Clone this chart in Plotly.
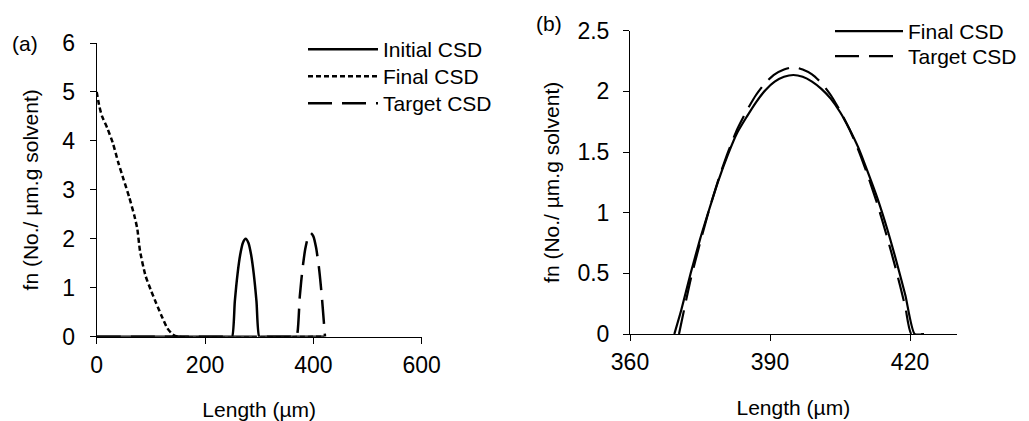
import plotly.graph_objects as go

# ---------------- Panel (a) data ----------------
a_init_x = [0, 245, 250, 255, 260, 265, 270, 275, 280, 285, 290, 295, 300, 305, 420]
a_init_y = [0, 0, 0, 0.72, 1.28, 1.68, 1.92, 2.0, 1.92, 1.68, 1.28, 0.72, 0, 0, 0]

a_final_x = [0, 5, 10, 20, 30, 40, 50, 60, 70, 75, 80, 90, 100, 110, 120, 130, 140, 150, 420]
a_final_y = [5.0, 4.7, 4.5, 4.25, 3.95, 3.55, 3.2, 2.85, 2.45, 2.2, 1.75, 1.25, 0.95, 0.68, 0.42, 0.18, 0.05, 0, 0]

a_target_x = [0, 364, 369, 375, 380, 385, 390, 395, 400, 405, 410, 415, 420, 421.5]
a_target_y = [0, 0, 0, 0.83, 1.39, 1.79, 2.03, 2.12, 2.05, 1.82, 1.44, 0.90, 0.21, 0]

# ---------------- Panel (b) data ----------------
b_final_x = [369.5, 371, 373, 375, 377, 379, 381, 383, 385, 387, 389, 391, 393, 395,
             397, 399, 401, 403, 405, 407, 409, 411, 413, 415, 417, 419, 421, 423]
b_final_y = [0, 0.2, 0.5, 0.78, 1.03, 1.27, 1.48, 1.66, 1.79, 1.91, 2.01, 2.08, 2.12, 2.135,
             2.12, 2.08, 2.02, 1.94, 1.83, 1.69, 1.53, 1.33, 1.12, 0.88, 0.61, 0.32, 0, 0]

b_target_x = [370.5, 373, 375, 377, 379, 381, 383, 385, 387, 389, 391, 393, 395,
              397, 399, 401, 403, 405, 407, 409, 411, 413, 415, 417, 419, 420.3, 423]
b_target_y = [0, 0.45, 0.75, 1.03, 1.28, 1.5, 1.69, 1.84, 1.97, 2.07, 2.14, 2.18, 2.20,
              2.18, 2.14, 2.07, 1.97, 1.84, 1.69, 1.51, 1.30, 1.07, 0.81, 0.53, 0.22, 0, 0]

a_xticks = [0, 200, 400, 600]
a_yticks = [0, 1, 2, 3, 4, 5, 6]
b_xticks = [360, 390, 420]
b_yticks = [0, 0.5, 1, 1.5, 2, 2.5]

# page body has an 8px margin: the figure is shrunk and positions shifted to compensate
OFF = 8
W, H = 1029 - OFF, 421 - OFF


def X(px):
    return (px - OFF) / W


def Y(py):
    return 1 - (py - OFF) / H


FONT = "Liberation Sans, Arial, sans-serif"
SHORT_DASH = "5px,3px"
LONG_DASH = "24px,10px"

fig = go.Figure()
spline = dict(shape="spline", smoothing=0.6)

fig.add_trace(go.Scatter(x=a_init_x, y=a_init_y, mode="lines", name="Initial CSD",
                         line=dict(color="black", width=2.5, **spline), showlegend=True,
                         xaxis="x", yaxis="y", legend="legend"))
fig.add_trace(go.Scatter(x=a_final_x, y=a_final_y, mode="lines", name="Final CSD",
                         line=dict(color="black", width=2.5, dash=SHORT_DASH, **spline), showlegend=True,
                         xaxis="x", yaxis="y", legend="legend2"))
fig.add_trace(go.Scatter(x=a_target_x, y=a_target_y, mode="lines", name="Target CSD",
                         line=dict(color="black", width=2.5, dash=LONG_DASH, **spline), showlegend=True,
                         xaxis="x", yaxis="y", legend="legend3"))

fig.add_trace(go.Scatter(x=b_final_x, y=b_final_y, mode="lines", name="Final CSD",
                         line=dict(color="black", width=2.2, **spline), showlegend=True,
                         xaxis="x2", yaxis="y2", legend="legend4"))
fig.add_trace(go.Scatter(x=b_target_x, y=b_target_y, mode="lines", name="Target CSD",
                         line=dict(color="black", width=2.2, dash=LONG_DASH, **spline), showlegend=True,
                         xaxis="x2", yaxis="y2", legend="legend5"))

axis_common = dict(showgrid=False, zeroline=False, showline=True, linecolor="black",
                   linewidth=1, ticks="outside", ticklen=6, tickcolor="black", tickwidth=1,
                   tickfont=dict(family=FONT, size=23, color="black"), automargin=False)

title_font = dict(family=FONT, size=21, color="black")
leg_font = dict(family=FONT, size=21, color="black")


def leg(x_px, top_px, iw):
    return dict(x=X(x_px), y=Y(top_px), xanchor="left", yanchor="top", visible=True,
                bgcolor="rgba(0,0,0,0)", itemwidth=iw, font=leg_font)


fig.update_layout(
    width=W, height=H,
    margin=dict(l=0, r=0, t=0, b=0),
    showlegend=True,
    paper_bgcolor="white", plot_bgcolor="white",
    font=dict(family=FONT, size=21, color="black"),
    xaxis=dict(domain=[X(96.7), X(421.7)], range=[0, 600], tickvals=a_xticks,
               anchor="y", ticklabelstandoff=2,
               title=dict(text="Length (µm)", font=title_font, standoff=41),
               **axis_common),
    yaxis=dict(domain=[Y(336.7), Y(43)], range=[0, 6], tickvals=a_yticks,
               anchor="x", ticklabelstandoff=10,
               title=dict(text="fn (No./ µm.g solvent)", font=title_font, standoff=17),
               **axis_common),
    xaxis2=dict(domain=[X(630), X(956.7)], range=[360, 430], tickvals=b_xticks,
                anchor="y2", ticklabelstandoff=1,
                title=dict(text="Length (µm)", font=title_font, standoff=26),
                **axis_common),
    yaxis2=dict(domain=[Y(334), Y(30.7)], range=[0, 2.5], tickvals=b_yticks,
                anchor="x2", ticklabelstandoff=9,
                title=dict(text="fn (No./ µm.g solvent)", font=title_font, standoff=12),
                **axis_common),
    legend=leg(303, 29, 70),
    legend2=leg(303, 56, 70),
    legend3=leg(303, 83, 70),
    legend4=leg(830, 11, 68),
    legend5=leg(830, 36, 68),
    annotations=[
        dict(text="(a)", x=X(25), y=Y(43), xref="paper", yref="paper",
             showarrow=False, xanchor="center", yanchor="middle", font=title_font),
        dict(text="(b)", x=X(549), y=Y(23), xref="paper", yref="paper",
             showarrow=False, xanchor="center", yanchor="middle", font=title_font),
    ],
)

fig.write_html("out.html")
